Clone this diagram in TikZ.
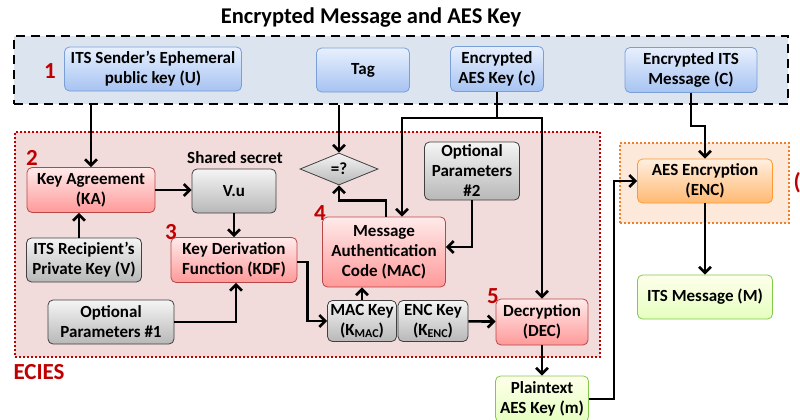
\documentclass[tikz,border=0pt]{standalone}
\usepackage{fontspec}
\setmainfont{Carlito}
\usetikzlibrary{positioning}
\usetikzlibrary{arrows.meta}
\usetikzlibrary{shapes.geometric}

\definecolor{numred}{HTML}{C00000}
\definecolor{topfill}{HTML}{DCE4EF}
\definecolor{eciesfill}{HTML}{F2DCDB}
\definecolor{aesfill}{HTML}{FDE9D9}
\definecolor{aesline}{HTML}{F07F2A}
\definecolor{bluetop}{HTML}{E8F0FD}
\definecolor{bluebot}{HTML}{A6C3F2}
\definecolor{blueline}{HTML}{7A9FD6}

\begin{document}
\begin{tikzpicture}[
x=1pt, y=-1pt,
font=\fontsize{17}{20}\selectfont\bfseries,
box/.style ={rectangle, rounded corners=5pt, draw, thick, align=center,
  inner sep=1pt},
bluebox/.style ={box, draw=blueline, top color=bluetop, bottom color=bluebot},
pinkbox/.style ={box, draw=red!45!gray, top color=red!8, bottom color=red!40},
graybox/.style ={box, draw=black!75, top color=black!4, bottom color=black!28},
greenbox/.style ={box, draw=green!40!olive!70, top color=green!5!yellow!8, bottom color=green!40!yellow!25},
orangebox/.style ={box, draw=orange!80, top color=orange!12, bottom color=orange!55},
test/.style ={diamond, draw=black!75, thick, top color=black!4, bottom color=black!28,
  inner sep=0pt, aspect=2.4},
num/.style ={text=numred, font=\fontsize{23}{25}\selectfont\bfseries},
line/.style ={draw, line width=2.6pt, -{Straight Barb[length=6pt,width=12pt]}}
]
\useasboundingbox (0,0) rectangle (800,420);

% frames
\node[draw, line width=2pt, dash pattern=on 9pt off 6pt, fill=topfill,
  minimum width=774pt, minimum height=68pt] (inbox) at (401,70) {};
\node[draw=numred, dotted, line width=2pt, fill=eciesfill,
  minimum width=585pt, minimum height=225pt] (ecies) at (307.5,244.5) {};
\node[draw=aesline, dotted, line width=2pt, fill=aesfill,
  minimum width=169pt, minimum height=80pt] (aes) at (704.5,183) {};

\node[font=\fontsize{22.5}{25}\selectfont\bfseries] (title) at (371,18) {Encrypted Message and AES Key};
\node[num, anchor=west] (eciesname) at (10,372) {ECIES};
\node[num] (n1) at (50,71) {1};
\node[num] (n2) at (32,158) {2};
\node[num] (n3) at (171,232) {3};
\node[num] (n4) at (320,213) {4};
\node[num] (n5) at (493,296) {5};
\node[num, anchor=west] (cut) at (790,183) {(};

% input
\node[bluebox, minimum width=177pt, minimum height=44pt] (U) at (153,69) {ITS Sender’s Ephemeral\\public key (U)};
\node[bluebox, minimum width=93pt, minimum height=44pt] (tag) at (363,70) {Tag};
\node[bluebox, minimum width=93pt, minimum height=45pt] (c) at (497,69) {Encrypted\\AES Key (c)};
\node[bluebox, minimum width=132pt, minimum height=45pt] (C) at (691,70) {Encrypted ITS\\Message (C)};

% ECIES
\node[pinkbox, minimum width=128pt, minimum height=45pt] (ka) at (91,190) {Key Agreement\\(KA)};
\node (shared) at (235,158) {Shared secret};
\node[graybox, minimum width=84pt, minimum height=44pt] (vu) at (234,191) {V.u};
\node[graybox, minimum width=115pt, minimum height=44pt] (pvk) at (84,260) {ITS Recipient’s\\Private Key (V)};
\node[pinkbox, minimum width=126pt, minimum height=45pt] (kdf) at (234,260) {Key Derivation\\Function (KDF)};
\node[graybox, minimum width=126pt, minimum height=44pt] (opt1) at (111,322) {Optional\\Parameters \#1};
\node[test, minimum width=78pt, minimum height=32pt] (eq) at (339,169) {=?};
\node[pinkbox, minimum width=123pt, minimum height=70pt] (mac) at (384,252) {Message\\Authentication\\Code (MAC)};
\node[graybox, minimum width=95pt, minimum height=58pt] (opt2) at (472,171) {Optional\\Parameters\\\#2};
\node[graybox, minimum width=69pt, minimum height=41pt] (mackey) at (362,321)
  {MAC Key\\(K\raisebox{-0.35ex}{\fontsize{12}{12}\selectfont MAC})};
\node[graybox, minimum width=70pt, minimum height=41pt] (enckey) at (433,321)
  {ENC Key\\(K\raisebox{-0.35ex}{\fontsize{12}{12}\selectfont ENC})};
\node[pinkbox, minimum width=92pt, minimum height=46pt] (dec) at (542,322) {Decryption\\(DEC)};
\node[greenbox, minimum width=93pt, minimum height=46pt] (pt) at (542,399) {Plaintext\\AES Key (m)};

% AES
\node[orangebox, minimum width=135pt, minimum height=44pt] (enc) at (705,181) {AES Encryption\\(ENC)};
\node[greenbox, minimum width=135pt, minimum height=44pt] (msg) at (705,297) {ITS Message (M)};

\coordinate (csplit) at (497,118);

\draw[line] (ka.north |- inbox.south) -- (ka.north);
\draw[line] (eq.north |- inbox.south) -- (eq.north);
\draw[line] (c.south) -- (csplit) -| ([xshift=18pt]mac.north);
\draw[line] (csplit) -| (dec.north);
\draw[line] (C.south) -- ++(0,33) -| (enc.north);
\draw[line] (ka.east) -- (ka.east -| vu.west);
\draw[line] (vu) -- (kdf);
\draw[line] ([xshift=-5pt]pvk.north) -- ([xshift=-5pt]pvk.north |- ka.south);
\draw[line] (opt1.east) -| ([xshift=2pt]kdf.south);
\draw[line] ([yshift=-2pt]kdf.east) -- ++(10,0) |- (mackey.west);
\draw[line] (mackey.north) -- (mackey.north |- mac.south);
\draw[line] ([xshift=2pt]mac.north) -- ++(0,-16) -| (eq.south);
\draw[line] (opt2.south) |- ([yshift=5pt]mac.east);
\draw[line] (enckey) -- (dec);
\draw[line] (dec) -- (pt);
\draw[line] (pt.east) -- ++(25,0) |- (enc.west);
\draw[line] (enc) -- (msg);
\end{tikzpicture}
\end{document}
